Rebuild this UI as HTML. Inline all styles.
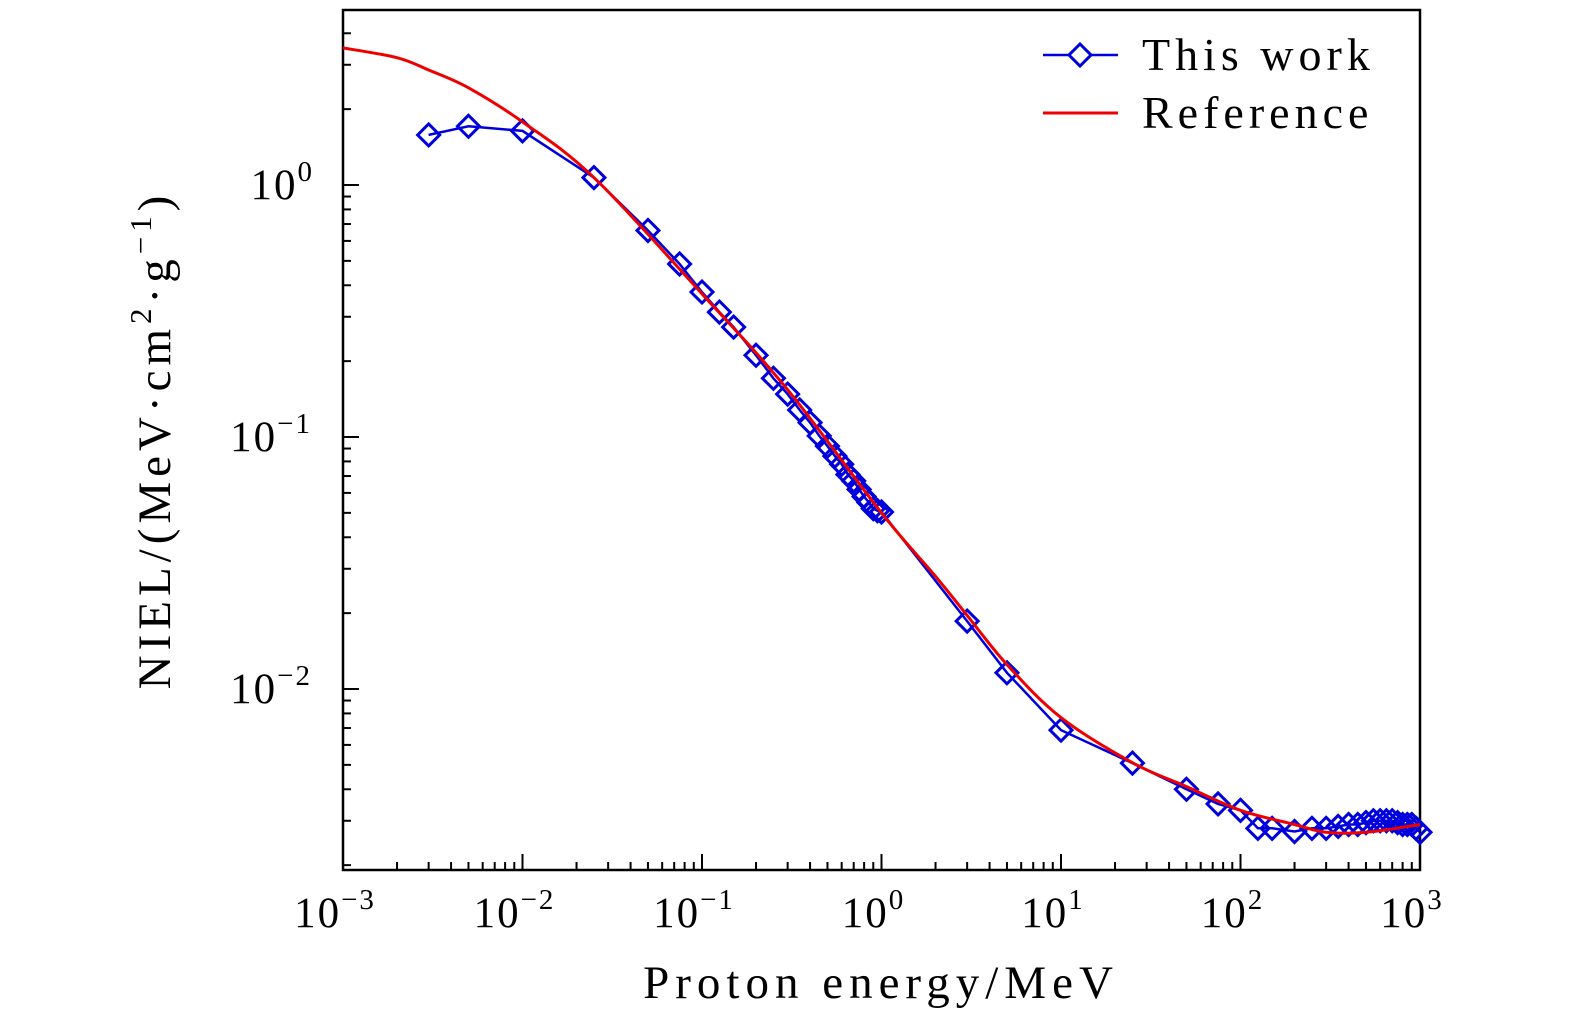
<!DOCTYPE html>
<html><head><meta charset="utf-8"><style>
body{margin:0;background:#fff}
svg{display:block}
text{font-family:"Liberation Serif",serif;fill:#000}
</style></head><body>
<svg id="chart" width="1575" height="1024" viewBox="0 0 1575 1024" xmlns="http://www.w3.org/2000/svg">
<g id="plot"></g>
</svg>
<script>
const workE=[0.003,0.005,0.01,0.025,0.05,0.075,0.1,0.125,0.15,0.2,0.25,0.3,0.35,0.4,0.45,0.5,0.55,0.6,0.65,0.7,0.75,0.8,0.85,0.9,0.95,1.0,3,5,10,25,50,75,100,125,150,200,250,300,350,400,450,500,550,600,650,700,750,800,850,900,950,1000];
const workV=[1.58,1.71,1.64,1.07,0.66,0.486,0.376,0.313,0.273,0.211,0.171,0.148,0.128,0.114,0.101,0.092,0.084,0.078,0.071,0.067,0.062,0.058,0.055,0.052,0.051,0.0504,0.0186,0.0116,0.00687,0.00508,0.0040,0.0035,0.0033,0.0028,0.0028,0.00272,0.0028,0.0028,0.00285,0.0029,0.0029,0.00295,0.003,0.003,0.003,0.003,0.00295,0.0029,0.0029,0.0029,0.0028,0.0027];
const refE=[0.001,0.002,0.003,0.005,0.01,0.025,0.1,0.3,1,2,3,5,10,25,50,100,200,300,500,1000];
const refV=[3.5,3.2,2.86,2.43,1.78,1.07,0.37,0.154,0.05,0.028,0.0196,0.0125,0.0077,0.0051,0.0041,0.0033,0.0029,0.0027,0.0027,0.0029];
const xTickExp=[-3,-2,-1,0,1,2,3];
const yTickExp=[0,-1,-2];

const X0=343,X1=1420,Y0=10,Y1=870;
const xs=e=>X0+(Math.log10(e)+3)*(X1-X0)/6;
const ys=v=>185-Math.log10(v)*252;
const NS="http://www.w3.org/2000/svg";
const g=document.getElementById('plot');
function mk(t,a,p){const el=document.createElementNS(NS,t);for(const k in a)el.setAttribute(k,a[k]);(p||g).appendChild(el);return el;}

const frame=mk('rect',{x:X0,y:Y0,width:X1-X0,height:Y1-Y0,fill:'none',stroke:'#000','stroke-width':2.5});



for(let d=-3;d<3;d++){for(let m=1;m<10;m++){const x=xs(m*Math.pow(10,d));const L=m===1?16:8;mk('line',{x1:x,y1:Y1,x2:x,y2:Y1-L,stroke:'#000','stroke-width':2});}}
for(let d=-3;d<1;d++){for(let m=1;m<10;m++){const v=m*Math.pow(10,d);const y=ys(v);if(y<Y0||y>Y1)continue;const L=m===1?16:8;mk('line',{x1:X0,y1:y,x2:X0+L,y2:y,stroke:'#000','stroke-width':2});}}

function powLabel(x,y,exp,anchor,name){
  const t=mk('text',{x:x,y:y,'font-size':43,'text-anchor':anchor,'letter-spacing':2});
  
  
  const a=mk('tspan',{},t);a.textContent='10';
  const b=mk('tspan',{dy:-18,'font-size':29},t);b.textContent=exp<0?'\u2212'+(-exp):String(exp);
}
xTickExp.forEach(e=>powLabel(xs(Math.pow(10,e))-8,927,e,'middle','x-tick-label'));
yTickExp.forEach(e=>powLabel(e===0?314:312,ys(Math.pow(10,e))+14,e,'end','y-tick-label'));

function smooth(pts){
  let d='M'+pts[0][0].toFixed(1)+','+pts[0][1].toFixed(1);
  for(let i=0;i<pts.length-1;i++){
    const p0=pts[Math.max(0,i-1)],p1=pts[i],p2=pts[i+1],p3=pts[Math.min(pts.length-1,i+2)];
    const c1=[p1[0]+(p2[0]-p0[0])/6,p1[1]+(p2[1]-p0[1])/6];
    const c2=[p2[0]-(p3[0]-p1[0])/6,p2[1]-(p3[1]-p1[1])/6];
    d+='C'+c1[0].toFixed(1)+','+c1[1].toFixed(1)+' '+c2[0].toFixed(1)+','+c2[1].toFixed(1)+' '+p2[0].toFixed(1)+','+p2[1].toFixed(1);
  }
  return d;
}
const rd=smooth(refE.map((e,i)=>[xs(e),ys(refV[i])]));
let wd='';workE.forEach((e,i)=>{wd+=(i?'L':'M')+xs(e).toFixed(1)+','+ys(workV[i]).toFixed(1);});
const wl=mk('path',{d:wd,fill:'none',stroke:'#0000dd','stroke-width':2.5});


workE.forEach((e,i)=>{const x=xs(e),y=ys(workV[i]),s=11;
  const p=mk('path',{d:`M${x},${y-s}L${x+s},${y}L${x},${y+s}L${x-s},${y}Z`,fill:'none',stroke:'#0000dd','stroke-width':3});
  
  
});
const rl=mk('path',{d:rd,fill:'none',stroke:'#ee0000','stroke-width':3,'stroke-linejoin':'round'});



const l1=mk('line',{x1:1043,y1:55,x2:1118,y2:55,stroke:'#0000dd','stroke-width':2.5});


mk('path',{d:'M1080,44L1091,55L1080,66L1069,55Z',fill:'#fff',stroke:'#0000dd','stroke-width':3});
const t1=mk('text',{x:1142,y:70,'font-size':46,'letter-spacing':5});t1.textContent='This work';


const l2=mk('line',{x1:1043,y1:113,x2:1118,y2:113,stroke:'#ee0000','stroke-width':3});


const t2=mk('text',{x:1142,y:128,'font-size':46,'letter-spacing':5});t2.textContent='Reference';



const xt=mk('text',{x:881,y:998,'font-size':47,'text-anchor':'middle','letter-spacing':6});xt.textContent='Proton energy/MeV';


const yt=mk('text',{x:0,y:0,'font-size':47,'text-anchor':'middle','letter-spacing':5,transform:'translate(170,440) rotate(-90)'});


const s1=mk('tspan',{},yt);s1.textContent='NIEL/(MeV\u00b7cm';
const s2=mk('tspan',{dy:-19,'font-size':31},yt);s2.textContent='2';
const s3=mk('tspan',{dy:19},yt);s3.textContent='\u00b7g';
const s4=mk('tspan',{dy:-19,'font-size':31},yt);s4.textContent='\u22121';
const s5=mk('tspan',{dy:19},yt);s5.textContent=')';
</script>
</body></html>
